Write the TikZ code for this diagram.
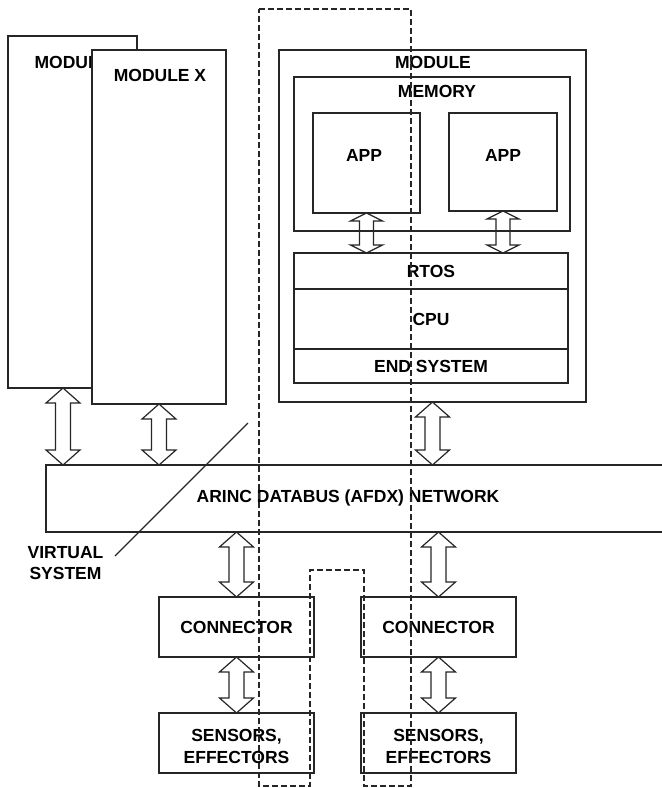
\documentclass[tikz,border=0pt]{standalone}
\usepackage{fontspec}
\setmainfont{Liberation Sans}
\usetikzlibrary{calc}
\newcommand{\lbf}{\fontsize{17.5}{21.5}\selectfont\bfseries}
% #1 style, #2 top point, #3 bottom point (y only), #4 head length, #5 head half width, #6 shaft half width
\newcommand{\dblarrow}[6]{%
  \draw[#1] let \p1=#2, \p2=#3 in
    (\x1,\y1) -- (\x1+#5,\y1-#4) -- (\x1+#6,\y1-#4) -- (\x1+#6,\y2+#4)
    -- (\x1+#5,\y2+#4) -- (\x1,\y2) -- (\x1-#5,\y2+#4) -- (\x1-#6,\y2+#4)
    -- (\x1-#6,\y1-#4) -- (\x1-#5,\y1-#4) -- cycle;}
\tikzset{
  box/.style={draw=black!85, line width=1.2pt, fill=white, inner sep=0pt, outer sep=0pt,
    anchor=north west, font=\lbf},
  lbl/.style={font=\lbf, inner sep=0pt, align=center},
  arrbig/.style={draw=black!85, line width=1.2pt, fill=white, line join=miter},
  arrsmall/.style={draw=black!85, line width=1.2pt, line join=miter},
  vline/.style={draw=black!85, line width=1.1pt},
  vsys/.style={draw=black!85, line width=1.1pt, dash pattern=on 6pt off 3pt}
}
\begin{document}
\begin{tikzpicture}[x=1pt, y=-1pt]
\useasboundingbox (0,0) rectangle (662,788);
% left modules
\node[box, minimum width=129, minimum height=352] (modback) at (8,36) {};
\node[lbl] (modbackT) at (72.5,62) {MODULE};
\node[box, minimum width=134, minimum height=354] (modx) at (92,50) {};
\node[lbl] (modxT) at (160,75) {MODULE X};
% right module
\node[box, minimum width=307, minimum height=352] (mod) at (279,50) {};
\node[lbl] (modT) at (433,62) {MODULE};
\node[box, minimum width=276, minimum height=154] (mem) at (294,77) {};
\node[lbl] (memT) at (437,91.5) {MEMORY};
\node[box, minimum width=107, minimum height=100] (app1) at (313,113) {};
\node[lbl] (app1T) at (364,155) {APP};
\node[box, minimum width=108, minimum height=98] (app2) at (449,113) {};
\node[lbl] (app2T) at (503,155) {APP};
\node[box, minimum width=274, minimum height=36] (rtos) at (294,253) {RTOS};
\node[box, minimum width=274, minimum height=60] (cpu) at (294,289) {CPU};
\node[box, minimum width=274, minimum height=34] (endsys) at (294,349) {END SYSTEM};
% network
\node[box, minimum width=620, minimum height=67] (arinc) at (46,465) {};
\node[lbl] (arincT) at (348,498) {ARINC DATABUS (AFDX) NETWORK};
% connectors and sensors
\node[box, minimum width=155, minimum height=60] (con1) at (159,597) {CONNECTOR};
\node[box, minimum width=155, minimum height=60] (con2) at (361,597) {CONNECTOR};
\node[box, minimum width=155, minimum height=60] (sen1) at (159,713) {};
\node[lbl] (sen1T) at (236.5,746.5) {SENSORS,\\EFFECTORS};
\node[box, minimum width=155, minimum height=60] (sen2) at (361,713) {};
\node[lbl] (sen2T) at (438.5,746.5) {SENSORS,\\EFFECTORS};
% arrows
\dblarrow{arrsmall}{(app1.south)}{(rtos.north)}{8pt}{16pt}{7pt}
\dblarrow{arrsmall}{(app2.south)}{(rtos.north)}{8pt}{16pt}{7pt}
\dblarrow{arrbig}{([xshift=55pt]modback.south west)}{(arinc.north)}{15pt}{17pt}{7.5pt}
\dblarrow{arrbig}{(modx.south)}{(arinc.north)}{15pt}{17pt}{7.5pt}
\dblarrow{arrbig}{(mod.south)}{(arinc.north)}{15pt}{17pt}{7.5pt}
\dblarrow{arrbig}{(arinc.south -| con1.north)}{(con1.north)}{15pt}{17pt}{7.5pt}
\dblarrow{arrbig}{(arinc.south -| con2.north)}{(con2.north)}{15pt}{17pt}{7.5pt}
\dblarrow{arrbig}{(con1.south)}{(sen1.north)}{15pt}{17pt}{7.5pt}
\dblarrow{arrbig}{(con2.south)}{(sen2.north)}{15pt}{17pt}{7.5pt}
% virtual system
\node[lbl] (vsT) at (65.5,563) {VIRTUAL\\SYSTEM};
\coordinate (vl1) at (248,423);
\coordinate (vl2) at (115,556);
\draw[vline] (vl1) -- (vl2);
\draw[vsys] (259,9) -- (411,9) -- (411,786) -- (364,786) -- (364,570) -- (310,570)
  -- (310,786) -- (259,786) -- cycle;
\end{tikzpicture}
\end{document}
